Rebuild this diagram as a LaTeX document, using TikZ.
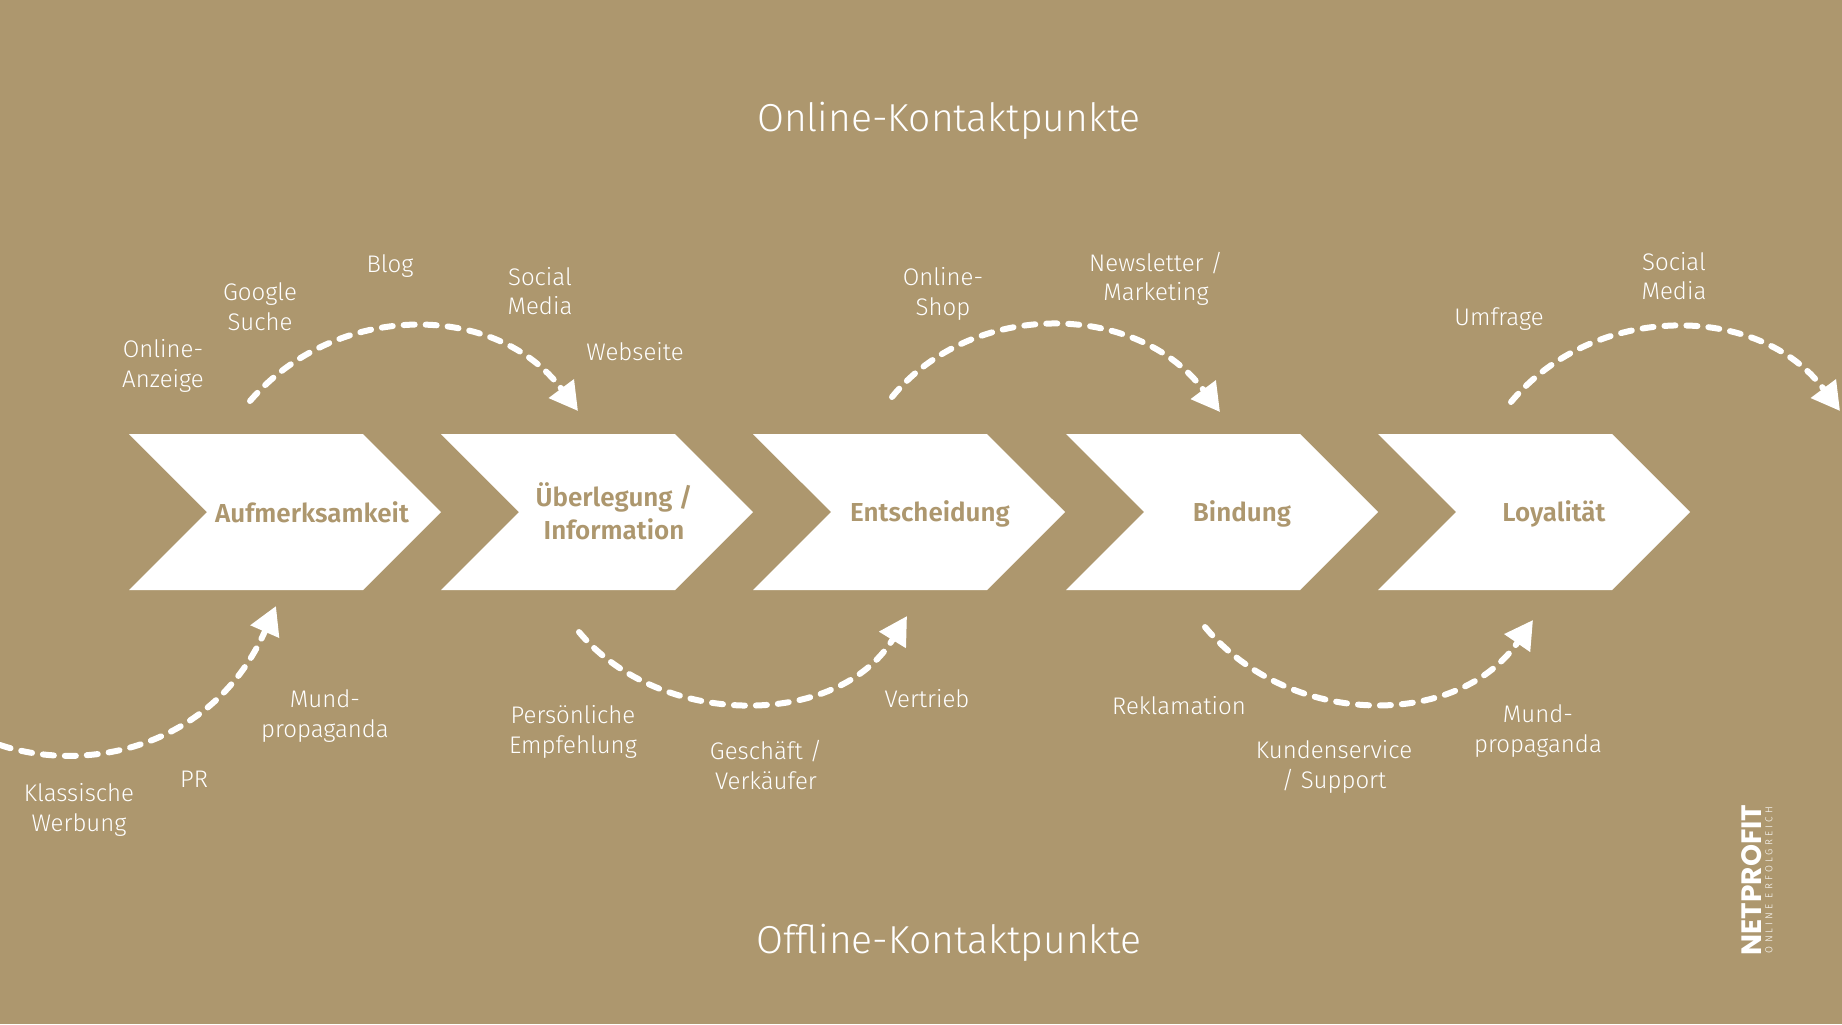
\documentclass[tikz,border=0pt]{standalone}
\usepackage{fontspec}
\setmainfont{Fira Sans Light}
\newfontfamily\boldfont{Fira Sans SemiBold}
\newfontfamily\logofont{Poppins Bold}
\usetikzlibrary{arrows.meta,shapes.symbols}
\definecolor{sand}{HTML}{AD976E}
\tikzset{
  chevron/.style={shape=signal,signal to=east,signal from=west,signal pointer angle=90,
    fill=white,inner sep=0pt,minimum width=156pt,minimum height=78pt},
  phase/.style={text=sand,align=center,font=\boldfont\fontsize{13}{16.5}\selectfont},
  touch/.style={text=white,align=center,font=\fontsize{12}{14.8}\selectfont},
  heading/.style={text=white,font=\fontsize{19.5}{24}\selectfont},
  journey/.style={draw=white,line width=3pt,line cap=round,dash pattern=on 5.5pt off 5.5pt,
    -{Triangle[length=14pt,width=15pt]}}
}
\begin{document}
\begin{tikzpicture}[x=0.5pt,y=-0.5pt]
  \fill[sand] (0,0) rectangle (1842,1024);
  \useasboundingbox (0,0) rectangle (1842,1024);

  \node[heading] (online) at (949,121) {Online-Kontaktpunkte};
  \node[heading] (offline) at (949,943) {Offline-Kontaktpunkte};

  \node[chevron] (chev1) at (285,512) {};
  \node[chevron] (chev2) at (597,512) {};
  \node[chevron] (chev3) at (909,512) {};
  \node[chevron] (chev4) at (1222,512) {};
  \node[chevron] (chev5) at (1534,512) {};

  \node[phase] (aufmerksamkeit) at (312,512) {Aufmerksamkeit};
  \node[phase] (ueberlegung) at (614,511) {Überlegung /\\Information};
  \node[phase] (entscheidung) at (930,514) {Entscheidung};
  \node[phase] (bindung) at (1242,514) {Bindung};
  \node[phase] (loyalitaet) at (1554,514) {Loyalität};

  \node[touch] (anzeige) at (163,366) {Online-\\Anzeige};
  \node[touch] (google) at (260,307) {Google\\Suche};
  \node[touch] (blog) at (390,266) {Blog};
  \node[touch] (social1) at (540,291) {Social\\Media};
  \node[touch] (webseite) at (635,352) {Webseite};
  \node[touch] (shop) at (943,294) {Online-\\Shop};
  \node[touch] (newsletter) at (1156,279) {Newsletter /\\Marketing};
  \node[touch] (umfrage) at (1499,319) {Umfrage};
  \node[touch] (social2) at (1674,276) {Social\\Media};

  \node[touch] (mund1) at (325,716) {Mund-\\propaganda};
  \node[touch] (pr) at (194,779) {PR};
  \node[touch] (werbung) at (79,810) {Klassische\\Werbung};
  \node[touch] (empfehlung) at (573,732) {Persönliche\\Empfehlung};
  \node[touch] (geschaeft) at (766,765) {Geschäft /\\Verkäufer};
  \node[touch] (vertrieb) at (927,699) {Vertrieb};
  \node[touch] (reklamation) at (1179,706) {Reklamation};
  \node[touch] (kundenservice) at (1334,767) {Kundenservice\\/ Support};
  \node[touch] (mund2) at (1538,731) {Mund-\\propaganda};

  \coordinate (up1a) at (250,401);
  \coordinate (up1b) at (578,411);
  \coordinate (up2a) at (892,397);
  \coordinate (up2b) at (1220,412);
  \coordinate (up3a) at (1511,402);
  \coordinate (up3b) at (1840,411);
  \coordinate (low1a) at (0,745);
  \coordinate (low1b) at (276,606);
  \coordinate (low2a) at (579,632);
  \coordinate (low2b) at (907,616);
  \coordinate (low3a) at (1205,627);
  \coordinate (low3b) at (1533,620);

  \draw[journey] (up1a) .. controls (336,301) and (496,301) .. (up1b);
  \draw[journey] (up2a) .. controls (971,300) and (1136,300) .. (up2b);
  \draw[journey] (up3a) .. controls (1594,302) and (1759,302) .. (up3b);
  \draw[journey] (low1a) .. controls (90,775) and (215,745) .. (low1b);
  \draw[journey] (low2a) .. controls (660,729) and (838,729) .. (low2b);
  \draw[journey] (low3a) .. controls (1290,729) and (1458,729) .. (low3b);

  \node[rotate=90,text=white,font=\logofont\fontsize{14}{14}\selectfont,inner sep=0pt] (logo) at (1752,880) {NETPROFIT};
  \node[rotate=90,text=white,font=\fontsize{5}{6}\addfontfeature{LetterSpace=32}\selectfont,inner sep=0pt] (slogan) at (1769,880) {ONLINE ERFOLGREICH};
\end{tikzpicture}
\end{document}
